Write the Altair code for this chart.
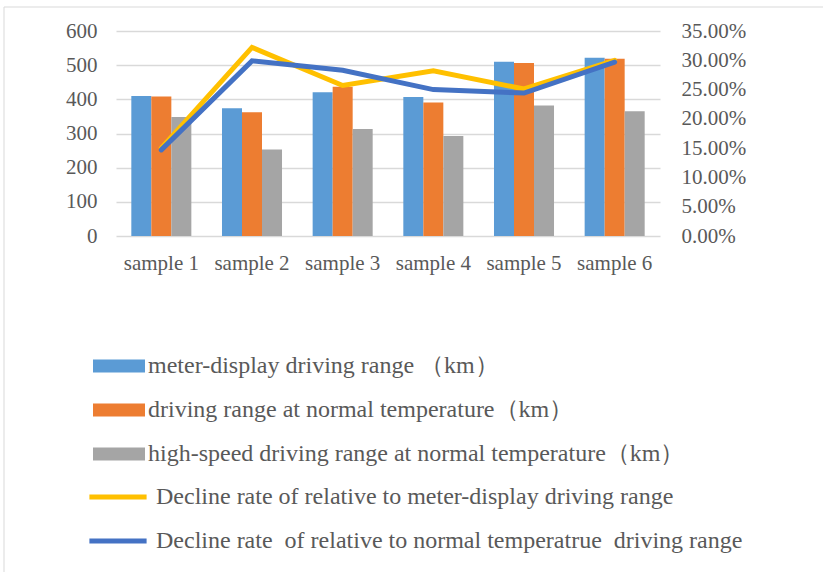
import altair as alt
import pandas as pd

samples = ["sample 1", "sample 2", "sample 3", "sample 4", "sample 5", "sample 6"]
bar_series = [
    "meter-display driving range （km）",
    "driving range at normal temperature（km）",
    "high-speed driving range at normal temperature（km）",
]
meter_display = [410, 374, 421, 407, 510, 522]
normal_temp = [408, 362, 437, 391, 506, 519]
high_speed = [348, 253, 313, 293, 382, 365]

line_series = [
    "Decline rate of relative to meter-display driving range",
    "Decline rate\u00a0 of relative to normal temperatrue\u00a0 driving range",
]
decline_meter = [0.150, 0.322, 0.257, 0.282, 0.251, 0.300]
decline_normal = [0.147, 0.299, 0.283, 0.250, 0.244, 0.297]

bar_colors = ["#5B9BD5", "#ED7D31", "#A5A5A5"]
line_colors = ["#FFC000", "#4472C4"]

left_ticks = [0, 100, 200, 300, 400, 500, 600]
right_ticks = [0, 0.05, 0.10, 0.15, 0.20, 0.25, 0.30, 0.35]

rows = []
for name, vals in zip(bar_series, [meter_display, normal_temp, high_speed]):
    for s, v in zip(samples, vals):
        rows.append({"sample": s, "series": name, "value": v})
bar_df = pd.DataFrame(rows)

lrows = []
for name, vals in zip(line_series, [decline_meter, decline_normal]):
    for s, v in zip(samples, vals):
        lrows.append({"sample": s, "lseries": name, "rate": v})
line_df = pd.DataFrame(lrows)

FONT = "Liberation Serif"
TXT = "#595959"

x_enc = alt.X(
    "sample:N",
    sort=samples,
    scale=alt.Scale(paddingInner=0.338, paddingOuter=0.169),
    axis=alt.Axis(title=None, labelAngle=0, domain=False, ticks=False, tickSize=0,
                  labelPadding=16, grid=False),
)

bars = alt.Chart(bar_df).mark_bar().encode(
    x=x_enc,
    xOffset=alt.XOffset("series:N", sort=bar_series,
                        scale=alt.Scale(paddingInner=0, paddingOuter=0)),
    y=alt.Y("value:Q", scale=alt.Scale(domain=[0, 600]),
            axis=alt.Axis(title=None, values=left_ticks, grid=True, gridColor="#D9D9D9",
                          gridWidth=1.3, domain=False, ticks=False, tickSize=0,
                          labelPadding=19)),
    fill=alt.Fill("series:N", sort=bar_series,
                  scale=alt.Scale(domain=bar_series, range=bar_colors),
                  legend=alt.Legend(title=None, orient="none", legendX=-29, legendY=323,
                                    symbolType="M-4,-1H4V1H-4Z", symbolSize=169,
                                    symbolStrokeWidth=0, symbolOffset=20, labelOffset=17,
                                    rowPadding=20, padding=0, labelLimit=800,
                                    labelFontSize=24)),
)

lines = alt.Chart(line_df).mark_line(strokeWidth=5, strokeCap="round").encode(
    x=alt.X("sample:N", sort=samples),
    y=alt.Y("rate:Q", scale=alt.Scale(domain=[0, 0.35]),
            axis=alt.Axis(title=None, orient="right", values=right_ticks, format=".2%",
                          grid=False, domain=False, ticks=False, tickSize=0,
                          labelPadding=21)),
    stroke=alt.Stroke("lseries:N", sort=line_series,
                      scale=alt.Scale(domain=line_series, range=line_colors),
                      legend=alt.Legend(title=None, orient="none", legendX=-32, legendY=454,
                                        symbolType="M-4.4,0H4.4", symbolSize=169,
                                        symbolStrokeWidth=5, symbolOffset=22, labelOffset=26,
                                        rowPadding=20, padding=0, labelLimit=800,
                                        labelFontSize=24)),
    order=alt.Order("lseries:N", sort="ascending"),
)

frame = alt.Chart(pd.DataFrame({"a": [0]})).mark_rect(
    fill="transparent", stroke="#D9D9D9", strokeWidth=1
).encode(x=alt.value(-112), x2=alt.value(720), y=alt.value(-24), y2=alt.value(560))

chart = alt.layer(frame, bars, lines).resolve_scale(y="independent").properties(
    width=544,
    height=205,
    autosize="none",
    padding={"left": 116, "top": 31, "right": 163, "bottom": 336},
    background="white",
).configure_view(strokeWidth=0).configure_axis(
    labelFont=FONT, labelFontSize=21, labelColor=TXT
).configure_legend(
    labelFont=FONT, labelColor=TXT
)

chart.save("out.html", embed_options={"renderer": "svg", "actions": False})
